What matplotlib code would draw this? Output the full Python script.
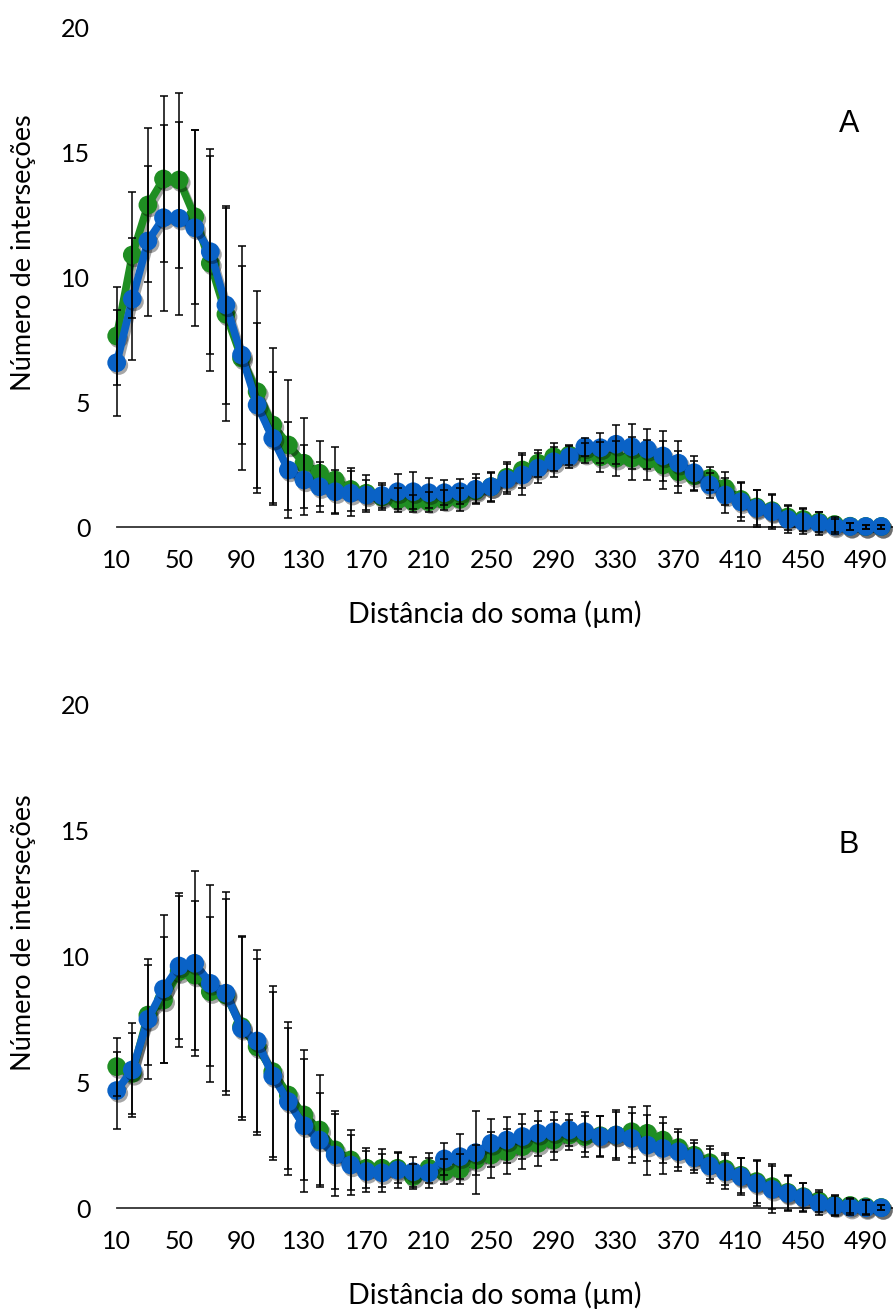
import numpy as np
import matplotlib
matplotlib.use("Agg")
import matplotlib.pyplot as plt
import matplotlib.patheffects as pe

plt.rcParams['font.family'] = ['Lato', 'DejaVu Sans']

# ---------------- data ----------------
distances = list(range(10, 501, 10))
xtick_labels = [10, 50, 90, 130, 170, 210, 250, 290, 330, 370, 410, 450, 490]
ytick_values = [0, 5, 10, 15, 20]

green_A = [7.64, 10.88, 12.88, 13.92, 13.88, 12.41, 10.55, 8.51, 6.76, 5.41,
           4.08, 3.28, 2.55, 2.15, 1.88, 1.50, 1.35, 1.20, 1.08, 1.01,
           1.01, 1.08, 1.11, 1.45, 1.61, 1.99, 2.28, 2.55, 2.81, 2.88,
           2.95, 2.81, 2.75, 2.75, 2.68, 2.48, 2.21, 2.05, 1.95, 1.55,
           1.10, 0.80, 0.65, 0.40, 0.30, 0.20, 0.10, 0.03, 0.02, 0.02]
blue_A = [6.57, 9.12, 11.44, 12.37, 12.35, 11.97, 11.01, 8.88, 6.88, 4.88,
          3.55, 2.28, 1.88, 1.61, 1.41, 1.35, 1.28, 1.26, 1.41, 1.41,
          1.37, 1.37, 1.41, 1.51, 1.61, 1.91, 2.08, 2.35, 2.61, 2.81,
          3.21, 3.17, 3.31, 3.21, 3.11, 2.84, 2.55, 2.17, 1.68, 1.28,
          1.01, 0.75, 0.61, 0.31, 0.21, 0.15, 0.04, 0.02, 0.02, 0.02]
green_A_err = [1.95, 2.53, 3.09, 3.33, 3.50, 3.49, 4.29, 4.27, 4.47, 4.03,
               3.10, 2.60, 1.80, 1.30, 1.33, 0.85, 0.75, 0.50, 0.47, 0.27,
               0.40, 0.40, 0.45, 0.50, 0.55, 0.60, 0.70, 0.55, 0.55, 0.40,
               0.40, 0.60, 0.70, 0.85, 0.80, 0.95, 0.85, 0.60, 0.45, 0.65,
               0.70, 0.70, 0.65, 0.50, 0.45, 0.40, 0.30, 0.15, 0.08, 0.08]
blue_A_err = [2.13, 2.44, 3.01, 3.73, 3.87, 3.93, 4.10, 3.96, 3.56, 3.30,
              2.65, 1.93, 1.40, 1.00, 0.87, 0.90, 0.60, 0.50, 0.70, 0.80,
              0.60, 0.50, 0.50, 0.60, 0.60, 0.60, 0.80, 0.60, 0.60, 0.45,
              0.35, 0.60, 0.77, 0.90, 0.80, 1.00, 0.90, 0.67, 0.50, 0.70,
              0.75, 0.75, 0.70, 0.55, 0.50, 0.45, 0.30, 0.15, 0.08, 0.08]

green_B = [5.62, 5.35, 7.67, 8.27, 9.40, 9.26, 8.60, 8.47, 7.21, 6.41,
           5.42, 4.49, 3.70, 3.10, 2.31, 1.91, 1.58, 1.58, 1.58, 1.25,
           1.58, 1.44, 1.54, 1.91, 2.11, 2.24, 2.44, 2.57, 2.70, 2.90,
           2.84, 2.87, 2.90, 3.03, 2.97, 2.70, 2.40, 2.10, 1.80, 1.55,
           1.30, 1.05, 0.85, 0.62, 0.45, 0.28, 0.12, 0.10, 0.05, 0.02]
blue_B = [4.67, 5.49, 7.50, 8.71, 9.62, 9.73, 8.93, 8.54, 7.14, 6.64,
          5.25, 4.23, 3.27, 2.70, 2.11, 1.71, 1.45, 1.40, 1.51, 1.44,
          1.40, 1.95, 2.04, 2.20, 2.57, 2.70, 2.84, 2.97, 3.03, 3.10,
          3.03, 2.84, 2.90, 2.77, 2.50, 2.37, 2.24, 2.00, 1.67, 1.44,
          1.25, 0.98, 0.74, 0.58, 0.42, 0.19, 0.08, 0.03, 0.01, 0.01]
green_B_err = [1.15, 1.62, 2.00, 2.52, 3.00, 2.96, 2.96, 3.80, 3.60, 3.50,
               3.40, 2.92, 2.60, 2.20, 1.55, 1.20, 0.80, 0.75, 0.60, 0.50,
               0.60, 0.50, 0.60, 0.60, 0.93, 0.90, 0.90, 0.90, 0.80, 0.60,
               0.80, 0.80, 0.90, 1.00, 1.10, 0.90, 0.75, 0.60, 0.65, 0.65,
               0.70, 0.85, 0.90, 0.70, 0.55, 0.45, 0.40, 0.30, 0.28, 0.10]
blue_B_err = [1.54, 1.88, 2.39, 2.94, 2.89, 3.67, 3.91, 4.04, 3.65, 3.60,
              3.35, 2.92, 2.65, 1.86, 1.63, 1.20, 0.80, 0.75, 0.70, 0.60,
              0.60, 0.62, 0.89, 1.65, 0.95, 0.90, 0.90, 0.90, 0.80, 0.65,
              0.80, 0.80, 1.00, 1.00, 1.20, 1.00, 0.78, 0.60, 0.68, 0.68,
              0.73, 0.90, 0.93, 0.70, 0.58, 0.45, 0.40, 0.32, 0.30, 0.10]

panel_labels = ["A", "B"]
xlabel = "Distância do soma (µm)"
ylabel = "Número de interseções"

GREEN = "#1f8e22"
BLUE = "#0a62c6"

# ---------------- figure ----------------
W, H = 893, 1315
fig = plt.figure(figsize=(W / 100, H / 100), dpi=100)


def fx(px):
    return px / W


def fy(py):
    return 1 - py / H


def draw_panel(y0_px, y20_px, g, b, ge, be, label, label_y):
    left = 116.7
    ax = fig.add_axes([fx(left), fy(y0_px), fx(W - left), (y0_px - y20_px) / H])
    ax.set_xlim(10, 10 + (W - left) / 1.5605)
    ax.set_ylim(0, 20)
    for s in ["top", "right", "left"]:
        ax.spines[s].set_visible(False)
    ax.spines["bottom"].set_color("#333333")
    ax.spines["bottom"].set_linewidth(1.3)
    ax.set_xticks(xtick_labels)
    ax.set_xticklabels([str(v) for v in xtick_labels])
    ax.set_yticks(ytick_values)
    ax.set_yticklabels([str(v) for v in ytick_values])
    ax.tick_params(axis="both", length=0, labelsize=18, colors="black")
    ax.tick_params(axis="x", pad=16)
    ax.tick_params(axis="y", pad=19)

    line_shadow = [pe.SimpleLineShadow(offset=(1.5, -2), shadow_color="black", alpha=0.35), pe.Normal()]
    mk_shadow = [pe.SimplePatchShadow(offset=(1.5, -2), shadow_rgbFace="black", alpha=0.35), pe.Normal()]

    for yv, col, z in [(g, GREEN, 3), (b, BLUE, 5)]:
        ax.plot(distances, yv, color=col, lw=5.5, solid_joinstyle="round",
                zorder=z, clip_on=False, path_effects=line_shadow)
        ax.plot(distances, yv, linestyle="none", marker="o", markersize=13.5,
                markerfacecolor=col, markeredgecolor=col, markeredgewidth=0,
                zorder=z + 0.5, clip_on=False, path_effects=mk_shadow)

    for yv, err in [(g, ge), (b, be)]:
        eb = ax.errorbar(distances, yv, yerr=err, fmt="none", ecolor="black",
                         elinewidth=1.1, capsize=3, capthick=1.1, zorder=8)
        for art in eb.get_children():
            art.set_clip_on(False)

    fig.text(fx(849), fy(label_y), label, fontsize=22, ha="center", va="center",
             family=["Liberation Sans", "DejaVu Sans"])
    return ax


draw_panel(527, 27, green_A, blue_A, green_A_err, blue_A_err, panel_labels[0], 124)
draw_panel(1208, 705, green_B, blue_B, green_B_err, blue_B_err, panel_labels[1], 845)

for yc in (253, 933):
    fig.text(fx(24), fy(yc), ylabel, rotation=90, ha="center", va="center", fontsize=19.5)
for yc in (614, 1295):
    fig.text(fx(495), fy(yc), xlabel, ha="center", va="center", fontsize=20.5)

fig.savefig("out.png", dpi=100)
